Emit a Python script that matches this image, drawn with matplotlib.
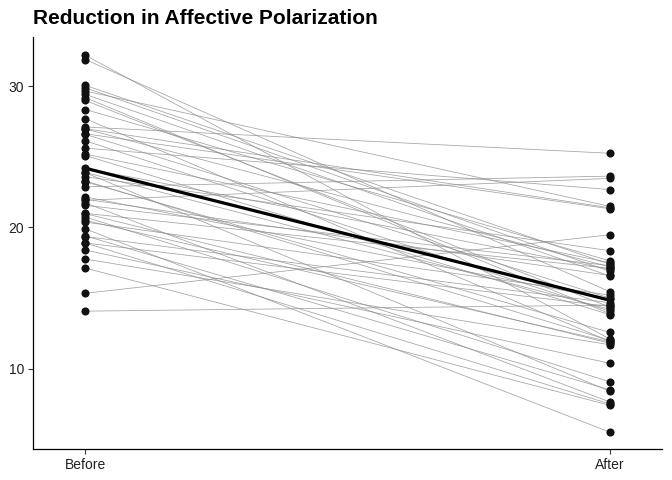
import matplotlib
matplotlib.use("Agg")
import matplotlib.pyplot as plt
import numpy as np

# paired scores (one line per respondent)
before = [32.2, 31.9, 30.07, 29.67, 29.43, 29.0, 28.36, 27.71, 27.12, 26.98,
          26.64, 26.14, 25.62, 25.1, 24.19, 23.88, 23.6, 23.24, 22.88, 22.17,
          21.93, 21.74, 21.57, 20.98, 20.74, 20.38, 19.9, 19.36, 18.9, 18.4,
          17.76, 17.12, 15.34, 14.07,
          29.9, 29.2, 27.0, 26.6, 25.2, 23.9, 23.3, 22.0, 21.0, 20.5, 19.4, 18.9]
after = [12.1, 15.45, 17.4, 21.5, 16.57, 14.36, 17.64, 11.93, 25.26, 17.21,
         21.33, 14.07, 22.69, 13.83, 17.05, 8.4, 18.36, 12.57, 23.64, 14.9,
         23.48, 7.64, 17.3, 11.8, 9.07, 15.21, 5.5, 14.67, 7.5, 10.38,
         11.69, 7.4, 19.48, 14.5,
         16.9, 13.9, 21.4, 15.0, 17.5, 14.2, 12.0, 16.6, 17.1, 11.9, 8.5, 14.4]
mean_vals = [24.2, 14.85]
stages = ["Before", "After"]

plt.rcParams['font.family'] = ['Liberation Sans', 'DejaVu Sans']

fig = plt.figure(figsize=(6.72, 4.8), dpi=100)
ax = fig.add_axes([33/672, 1-449/480, (662-33)/672, (449-37)/480])

xs = np.arange(1, len(stages)+1)
for b, a in zip(before, after):
    ax.plot(xs, [b, a], color='#8c8c8c', lw=0.55, alpha=0.8, zorder=1)
ax.plot(xs, mean_vals, color='black', lw=2.3, zorder=2)
ax.scatter(np.full(len(before), xs[0]), before, s=34, color='#111111', zorder=3, linewidths=0)
ax.scatter(np.full(len(after), xs[1]), after, s=34, color='#111111', zorder=3, linewidths=0)

ax.set_xlim(0.9, 2.1)
ax.set_ylim(4.3, 33.5)
ax.set_xticks(xs)
ax.set_xticklabels(stages)
ax.set_yticks([10, 20, 30])
for s in ['top', 'right']:
    ax.spines[s].set_visible(False)
for s in ['left', 'bottom']:
    ax.spines[s].set_linewidth(0.9)
ax.tick_params(axis='both', length=3.5, width=0.8, color='#333333',
               labelsize=10, labelcolor='#222222', pad=3)

fig.text(33/672, 1-18/480, "Reduction in Affective Polarization", fontsize=15,
         fontweight='bold', va='center', ha='left')

fig.savefig("out.png", dpi=100)
